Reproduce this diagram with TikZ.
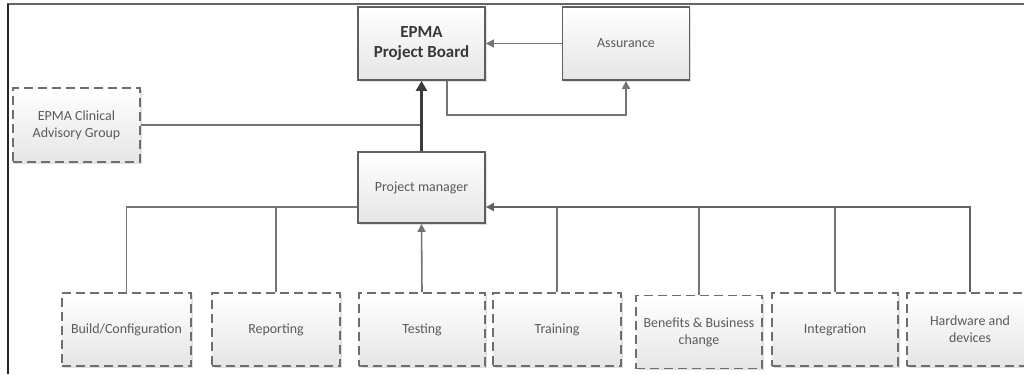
\documentclass[tikz,border=0pt]{standalone}
\usepackage{fontspec}
\setmainfont{Carlito}
\usetikzlibrary{arrows.meta,shadows,calc}
\definecolor{boxline}{HTML}{5F5F5F}
\definecolor{dashline}{HTML}{6E6E6E}
\definecolor{txt}{HTML}{5A5A5A}
\definecolor{conn}{HTML}{747474}
\definecolor{darkconn}{HTML}{3C3C3C}
\begin{document}
\begin{tikzpicture}[x=1bp,y=-1bp,
  basebox/.style={rectangle, minimum width=127bp, minimum height=73bp, inner sep=2bp,
    align=center, text=txt, font=\fontsize{14}{17}\selectfont,
    top color=white, bottom color=black!10,
    drop shadow={shadow xshift=1.5bp,shadow yshift=-1.5bp,fill=black!25}},
  solidbox/.style={basebox, draw=boxline, line width=1.8bp},
  dashbox/.style={basebox, draw=dashline, line width=1.7bp, dash pattern=on 9bp off 5bp},
  link/.style={draw=conn, line width=1.6bp},
  arr/.style={-{Triangle[length=8bp,width=8bp]}},
  bigarr/.style={-{Triangle[length=10bp,width=11bp]}},
]
\useasboundingbox (0,0) rectangle (1024,374);
% frame
\draw[draw=black!60, line width=2bp] (7,4) -- (1024,4);
\draw[draw=black!85, line width=2bp] (8,374) -- (8,4);

% top nodes
\node[solidbox, font=\fontsize{17}{20}\selectfont\bfseries, text=black!78] (pb) at (421.5,43.5) {EPMA\\Project Board};
\node[solidbox] (as) at (626,43.5) {Assurance};
\node[dashbox, minimum height=74bp] (cag) at (76.5,125) {EPMA Clinical\\Advisory Group};
\node[solidbox, minimum height=71bp] (pm) at (421.5,187.5) {Project manager};

% bottom row
\node[dashbox, minimum width=129bp] (bc) at (126.5,329.5) {Build/Configuration};
\node[dashbox, minimum width=128bp] (rp) at (276,329.5) {Reporting};
\node[dashbox, minimum width=126bp] (ts) at (422,329.5) {Testing};
\node[dashbox, minimum width=128bp] (tr) at (557,329.5) {Training};
\node[dashbox, minimum width=126bp] (bb) at (699,332) {Benefits \& Business\\change};
\node[dashbox, minimum width=126bp] (in) at (835,329.5) {Integration};
\node[dashbox, minimum width=126bp] (hw) at (970,329.5) {Hardware and\\devices};

\coordinate (busy) at (0,207);
\coordinate (loopy) at (0,115);

% connectors at top
\draw[link, arr] (as.west) -- (pb.east);
\draw[link, arr] ([xshift=25.5bp]pb.south) -- ([xshift=25.5bp]pb.south |- loopy) -| (as.south);
\draw[link] (cag.east) -- (cag.east -| pm.north);
\draw[draw=darkconn, line width=2.6bp, bigarr] (pm.north) -- (pb.south);

% left bus
\draw[link] (bc.north) |- (busy -| pm.west);
\draw[link] (rp.north) -- (rp.north |- busy);
% testing
\draw[link, arr] (ts.north) -- (pm.south);
% right bus
\draw[link, line width=1.9bp, draw=black!62, arr] (hw.north) |- (busy -| pm.east);
\draw[link] (tr.north) -- (tr.north |- busy);
\draw[link] (bb.north) -- (bb.north |- busy);
\draw[link] (in.north) -- (in.north |- busy);
\end{tikzpicture}
\end{document}
